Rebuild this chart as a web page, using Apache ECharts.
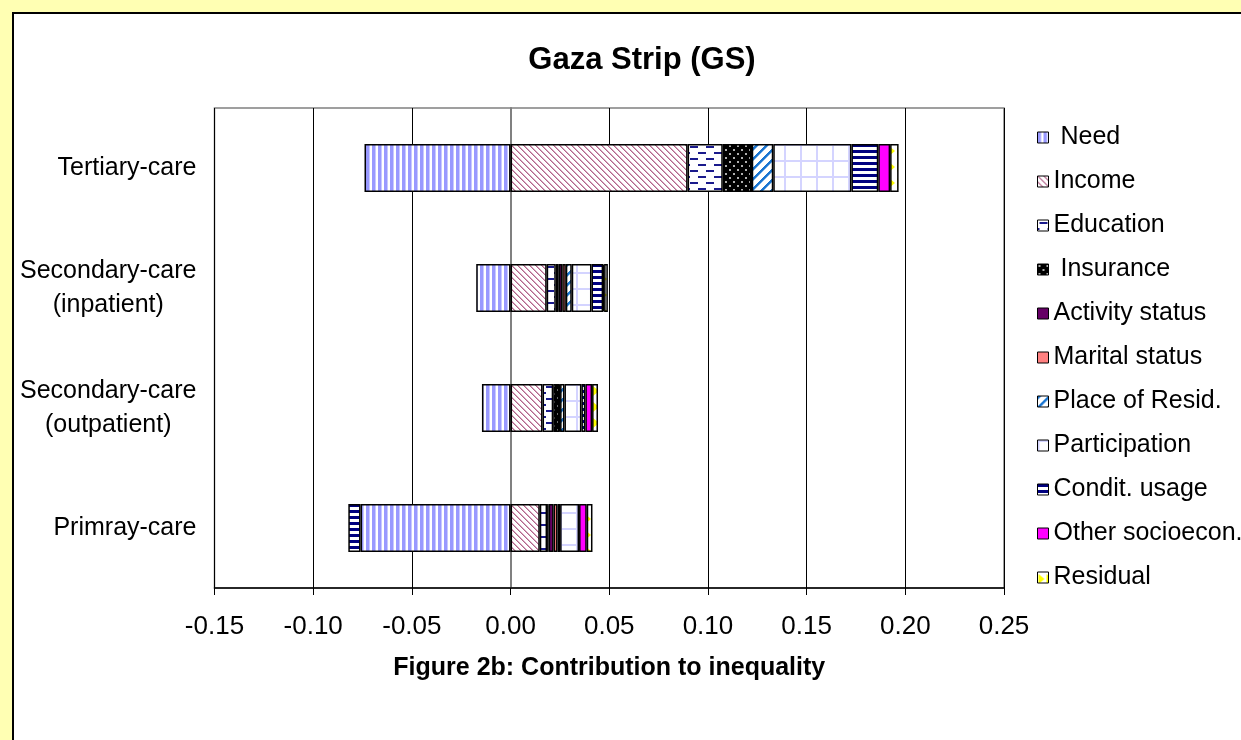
<!DOCTYPE html>
<html>
<head>
<meta charset="utf-8">
<script src="https://cdn.jsdelivr.net/npm/echarts@6/dist/echarts.min.js"></script>
<style>
html,body{margin:0;padding:0;background:#ffffb3;}
#chart{width:1241px;height:740px;}
</style>
</head>
<body>
<div id="chart"></div>
<script>
// ---- data ----
const categories = ['Tertiary-care', 'Secondary-care\n(inpatient)', 'Secondary-care\n(outpatient)', 'Primray-care'];
const seriesNames = [' Need', 'Income', 'Education', ' Insurance', 'Activity status', 'Marital status', 'Place of Resid.', 'Participation', 'Condit. usage', 'Other socioecon.', 'Residual'];
const need          = [-0.0740, -0.0174, -0.0145, -0.0760];
const income        = [ 0.0897,  0.0183,  0.0162,  0.0148];
const education     = [ 0.0178,  0.0046,  0.0054,  0.0037];
const insurance     = [ 0.0145,  0.0015,  0.0030,  0.0008];
const activity      = [ 0.0001,  0.0018,  0.0003,  0.0025];
const marital       = [ 0.0001,  0.0018,  0.0002,  0.0020];
const place         = [ 0.0109,  0.0030,  0.0022,  0.0013];
const participation = [ 0.0396,  0.0100,  0.0086,  0.0096];
const condit        = [ 0.0136,  0.0059,  0.0020, -0.0062];
const other         = [ 0.0060,  0.0005,  0.0034,  0.0039];
const residual      = [ 0.0043,  0.0019,  0.0030,  0.0029];
const xTicks = { min: -0.15, max: 0.25, interval: 0.05 };
const titleText = 'Gaza Strip (GS)';
const xAxisTitle = 'Figure 2b: Contribution to inequality';

// ---- patterns (style only) ----
function pat(w, h, draw) {
  const c = document.createElement('canvas');
  c.width = w; c.height = h;
  const g = c.getContext('2d');
  g.fillStyle = '#ffffff'; g.fillRect(0, 0, w, h);
  draw(g, w, h);
  return { image: c, repeat: 'repeat' };
}
const styles = [
  pat(6, 2, g => { g.fillStyle = '#9999ff'; g.fillRect(0, 0, 3, 2); g.fillStyle = '#c8c8ff'; g.fillRect(3, 0, 1, 2); }),
  pat(6, 6, g => { for (let y = 0; y < 6; y++) for (let x = 0; x < 6; x++) { const d = ((x - y) % 6 + 6) % 6; if (d === 0) { g.fillStyle = '#b0668a'; g.fillRect(x, y, 1, 1); } else if (d === 1) { g.fillStyle = '#d9a6bf'; g.fillRect(x, y, 1, 1); } } }),
  pat(16, 12, g => { g.fillStyle = '#1a1a8c'; g.fillRect(2, 2, 8, 2); g.fillRect(10, 8, 6, 2); g.fillRect(0, 8, 2, 2); }),
  pat(8, 8, g => { g.fillStyle = '#000000'; g.fillRect(0, 0, 8, 8); g.fillStyle = '#b0b0b0'; g.fillRect(1, 1, 2, 2); g.fillRect(5, 5, 2, 2); }),
  '#660066',
  '#ff8080',
  pat(10, 10, g => { for (let y = 0; y < 10; y++) for (let x = 0; x < 10; x++) { const d = (x + y) % 10; if (d < 3) { g.fillStyle = '#1a75d1'; g.fillRect(x, y, 1, 1); } else if (d === 3) { g.fillStyle = '#8cbae8'; g.fillRect(x, y, 1, 1); } } }),
  pat(16, 16, g => { g.fillStyle = '#d4d4ff'; g.fillRect(0, 0, 16, 2); g.fillRect(0, 0, 2, 16); }),
  pat(2, 6, g => { g.fillStyle = '#000080'; g.fillRect(0, 0, 2, 3); }),
  '#ff00ff',
  pat(8, 16, g => { g.fillStyle = '#ffff00'; g.beginPath(); g.moveTo(1, 2); g.lineTo(7, 7); g.lineTo(1, 12); g.closePath(); g.fill(); })
];
const valueArrays = [need, income, education, insurance, activity, marital, place, participation, condit, other, residual];

const chart = echarts.init(document.getElementById('chart'));
const FONT = 'Liberation Sans, Arial, sans-serif';

const series = seriesNames.map((name, i) => ({
  name: name,
  type: 'bar',
  stack: 'total',
  barWidth: 48,
  data: valueArrays[i],
  itemStyle: { color: styles[i], borderColor: '#000', borderWidth: 1.5 },
  emphasis: { disabled: true }
}));

chart.setOption({
  backgroundColor: '#ffffb3',
  animation: false,
  graphic: [
    { type: 'rect', z: -100, shape: { x: 13, y: 13, width: 1300, height: 800 }, style: { fill: '#ffffff', stroke: '#000000', lineWidth: 2 } },
    { type: 'text', z: 100, x: 642, y: 60, style: { text: titleText, font: 'bold 31px ' + FONT, fill: '#000', textAlign: 'center', textVerticalAlign: 'middle' } }
  ],
  grid: { left: 214.5, right: 237, top: 108, bottom: 152, show: true, borderColor: '#808080', borderWidth: 1.5, backgroundColor: 'transparent' },
  legend: {
    orient: 'vertical', left: 1032, top: 120,
    itemWidth: 11, itemHeight: 11, itemGap: 19,
    icon: 'rect',
    selectedMode: false,
    itemStyle: { borderColor: '#000', borderWidth: 1 },
    textStyle: { fontFamily: FONT, fontSize: 25, lineHeight: 25, color: '#000' },
    data: seriesNames
  },
  xAxis: {
    type: 'value', position: 'bottom',
    min: xTicks.min, max: xTicks.max, interval: xTicks.interval,
    name: xAxisTitle, nameLocation: 'middle', nameGap: 68,
    nameTextStyle: { fontFamily: FONT, fontSize: 25, fontWeight: 'bold', color: '#000' },
    axisLine: { show: true, lineStyle: { color: '#000', width: 1.5 } },
    axisTick: { show: true, length: 7, lineStyle: { color: '#000', width: 1 } },
    axisLabel: { fontFamily: FONT, fontSize: 26, color: '#000', margin: 26,
      formatter: v => (Math.abs(v) < 1e-9 ? 0 : v).toFixed(2) },
    splitLine: { show: true, lineStyle: { color: '#000', width: 1 } }
  },
  yAxis: {
    type: 'category', inverse: true, data: categories,
    axisLine: { show: true, onZero: true, lineStyle: { color: '#808080', width: 2 } },
    axisTick: { show: false },
    axisLabel: {
      margin: 18, fontFamily: FONT, fontSize: 25, color: '#000', lineHeight: 34,
      formatter: v => v.split('\n').map(s => '{c|' + s + '}').join('\n'),
      rich: { c: { align: 'center', fontFamily: FONT, fontSize: 25, lineHeight: 34, color: '#000' } }
    },
    splitLine: { show: false }
  },
  series: series
});
</script>
</body>
</html>
